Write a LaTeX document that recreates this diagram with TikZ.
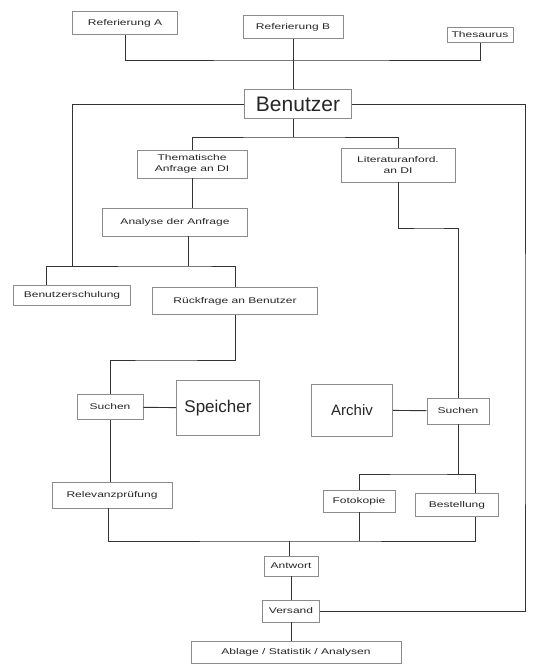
\documentclass[tikz,border=0pt]{standalone}
\usepackage{fontspec}
\setmainfont{Liberation Sans}
\newfontfamily\handfont[FakeStretch=1.45]{Liberation Sans}
\begin{document}
\begin{tikzpicture}[x=1pt,y=-1pt,
  box/.style={draw=black!45,line width=0.7pt,inner sep=1pt,align=center,font=\handfont\fontsize{8.3}{11.5}\selectfont,fill=white,text=black!85},
  bigbox/.style={box,font=\fontsize{17}{19}\selectfont},
  conn/.style={draw=black!80,line width=0.9pt}]
\useasboundingbox[fill=white] (0,0) rectangle (541,667);
% nodes
\node[box,minimum width=105,minimum height=23] (refA) at (125,23) {Referierung A};
\node[box,minimum width=100,minimum height=23] (refB) at (293,27) {Referierung B};
\node[box,minimum width=66,minimum height=15] (thes) at (480,35) {Thesaurus};
\node[bigbox,font=\fontsize{21}{23}\selectfont,minimum width=107,minimum height=29] (ben) at (298,104) {Benutzer};
\node[box,minimum width=110,minimum height=28] (them) at (192,164) {Thematische\\Anfrage an DI};
\node[box,minimum width=114,minimum height=34] (lit) at (398,165) {Literaturanford.\\an DI};
\node[box,minimum width=145,minimum height=28] (ana) at (175,222) {Analyse der Anfrage};
\node[box,minimum width=117,minimum height=20] (schul) at (72,295) {Benutzerschulung};
\node[box,minimum width=165,minimum height=27] (rueck) at (235,301) {Rückfrage an Benutzer};
\node[box,minimum width=66,minimum height=25] (suchL) at (110,407) {Suchen};
\node[bigbox,minimum width=83,minimum height=55] (spei) at (218,408) {Speicher};
\node[bigbox,font=\fontsize{15}{17}\selectfont,minimum width=81,minimum height=52] (arch) at (352,410) {Archiv};
\node[box,minimum width=62,minimum height=26] (suchR) at (458,411) {Suchen};
\node[box,minimum width=120,minimum height=26] (relev) at (112,495) {Relevanzprüfung};
\node[box,minimum width=72,minimum height=22] (foto) at (359,501) {Fotokopie};
\node[box,minimum width=83,minimum height=23] (best) at (457,505) {Bestellung};
\node[box,minimum width=54,minimum height=20] (antw) at (291,566) {Antwort};
\node[box,minimum width=57,minimum height=22] (vers) at (291,611) {Versand};
\node[box,minimum width=210,minimum height=22] (abl) at (296,652) {Ablage / Statistik / Analysen};
% coordinates
\coordinate (c1) at (300,60);
\coordinate (b1) at (293,137);
\coordinate (c4) at (188,266);
\coordinate (c2) at (72,266);
\coordinate (c3) at (525,400);
\coordinate (c5) at (160,360);
\coordinate (c6) at (430,228);
\coordinate (c7) at (420,474);
\coordinate (c8) at (289,541);
% connectors
\draw[conn] (refA.south) |- (c1) -| (thes.south);
\draw[conn] (refB.south) -- (refB.south |- ben.north);
\draw[conn] (ben.west) -| (c2);
\draw[conn] (ben.east) -| (c3) |- (vers.east);
\draw[conn] (b1 |- ben.south) -- (b1);
\draw[conn] (them.north) |- (b1) -| (lit.north);
\draw[conn] (them.south) -- (them.south |- ana.north);
\draw[conn] (c4 |- ana.south) -- (c4);
\draw[conn] ([xshift=-26]schul.north) |- (c4) -| (rueck.north);
\draw[conn] (rueck.south) |- (c5) -| (suchL.north);
\draw[conn] (suchL) -- (spei);
\draw[conn] (suchL.south) -- (suchL.south |- relev.north);
\draw[conn] (lit.south) |- (c6) -| (suchR.north);
\draw[conn] (arch) -- (suchR);
\draw[conn] (suchR.south) -- (suchR.south |- c7);
\draw[conn] (foto.north) |- (c7) -| ([xshift=18]best.north);
\draw[conn] ([xshift=-4]relev.south) |- (c8) -| ([xshift=18]best.south);
\draw[conn] (foto.south) -- (foto.south |- c8);
\draw[conn] (c8) -- (c8 |- antw.north);
\draw[conn] (antw.south) -- (vers.north);
\draw[conn] (vers.south) -- (vers.south |- abl.north);
\end{tikzpicture}
\end{document}
